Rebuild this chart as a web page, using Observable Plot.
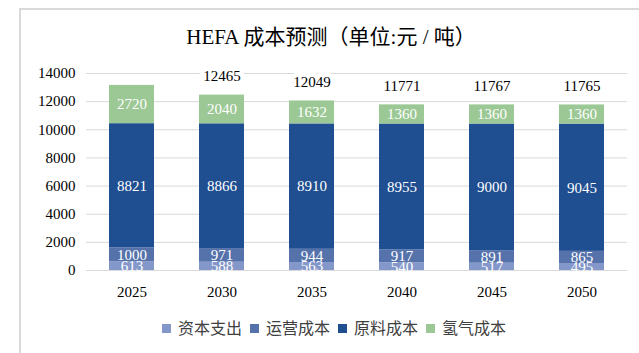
<!DOCTYPE html>
<html><head><meta charset="utf-8">
<script src="https://cdn.jsdelivr.net/npm/d3@7"></script>
<script src="https://cdn.jsdelivr.net/npm/@observablehq/plot@0.6"></script>
<style>
html,body{margin:0;padding:0;background:#fff;width:639px;height:353px;overflow:hidden;}
#frame{position:absolute;left:19px;top:8px;width:700px;height:400px;border-left:2px solid #d9d9d9;border-top:2px solid #d9d9d9;}
#title{position:absolute;left:0;width:662px;top:24px;text-align:center;font-family:"Liberation Serif","Noto Sans CJK SC",serif;font-size:21px;color:#000;line-height:26px;}
#chart{position:absolute;left:0;top:50px;width:639px;}
#chart svg, #chart svg text{font-family:"Liberation Serif",serif !important;}
#legend{position:absolute;left:0;width:668px;top:317px;text-align:center;font-family:"Noto Sans CJK SC",sans-serif;font-size:16px;color:#404040;line-height:20px;}
#legend span.item{display:inline-block;margin:0 4px;}
#legend span.sw{display:inline-block;width:9px;height:9px;margin-right:7px;vertical-align:1px;}
</style></head>
<body>
<div id="frame"></div>
<div id="title">HEFA 成本预测（单位:元 / 吨）</div>
<div id="chart"></div>
<div id="legend"></div>
<script>
const years = ["2025","2030","2035","2040","2045","2050"];
const seriesNames = ["资本支出","运营成本","原料成本","氢气成本"];
const seriesColors = ["#8497CA","#5572AB","#1F4E91","#9CC895"];
const capex = [613,588,563,540,517,495];
const opex = [1000,971,944,917,891,865];
const feedstock = [8821,8866,8910,8955,9000,9045];
const hydrogen = [2720,2040,1632,1360,1360,1360];
const totals = [null,12465,12049,11771,11767,11765];
const yTicks = [0,2000,4000,6000,8000,10000,12000,14000];

const seriesValues = [capex, opex, feedstock, hydrogen];
const data = [];
seriesNames.forEach((s,i)=>years.forEach((y,j)=>data.push({year:y, series:s, value:seriesValues[i][j]})));
const totalData = years.map((y,j)=>({year:y, total:totals[j]})).filter(d=>d.total!=null);

const serif = "Liberation Serif, serif";
const chart = Plot.plot({
  width: 639,
  height: 260,
  marginLeft: 86,
  marginRight: 12,
  marginTop: 23,
  marginBottom: 40,
  style: "font-family: 'Liberation Serif', serif; font-size: 15px; color: #000; background: transparent;",
  x: {domain: years, paddingInner: 0.5, paddingOuter: 0.25, label: null, tickSize: 0, tickPadding: 16},
  y: {domain: [0,14000], ticks: yTicks, label: null, tickSize: 0, tickPadding: 11, tickFormat: d=>String(d)},
  color: {domain: seriesNames, range: seriesColors},
  marks: [
    Plot.gridY(yTicks, {stroke: "#d9d9d9", strokeOpacity: 1, strokeWidth: 1}),
    Plot.barY(data, {x: "year", y: "value", fill: "series"}),
    Plot.text(data, Plot.stackY({x: "year", y: "value", text: d=>String(d.value), fill: "white", fontSize: 15, fontFamily: serif})),
    Plot.text(totalData, {x: "year", y: "total", text: d=>String(d.total), dy: -19, fill: "black", stroke: "white", strokeWidth: 9, paintOrder: "stroke", fontSize: 15, fontFamily: serif})
  ]
});
document.getElementById("chart").appendChild(chart);

const leg = document.getElementById("legend");
seriesNames.forEach((s,i)=>{
  const item = document.createElement("span"); item.className="item";
  const sw = document.createElement("span"); sw.className="sw"; sw.style.background=seriesColors[i];
  item.appendChild(sw); item.appendChild(document.createTextNode(s));
  leg.appendChild(item);
});
</script>
</body></html>
